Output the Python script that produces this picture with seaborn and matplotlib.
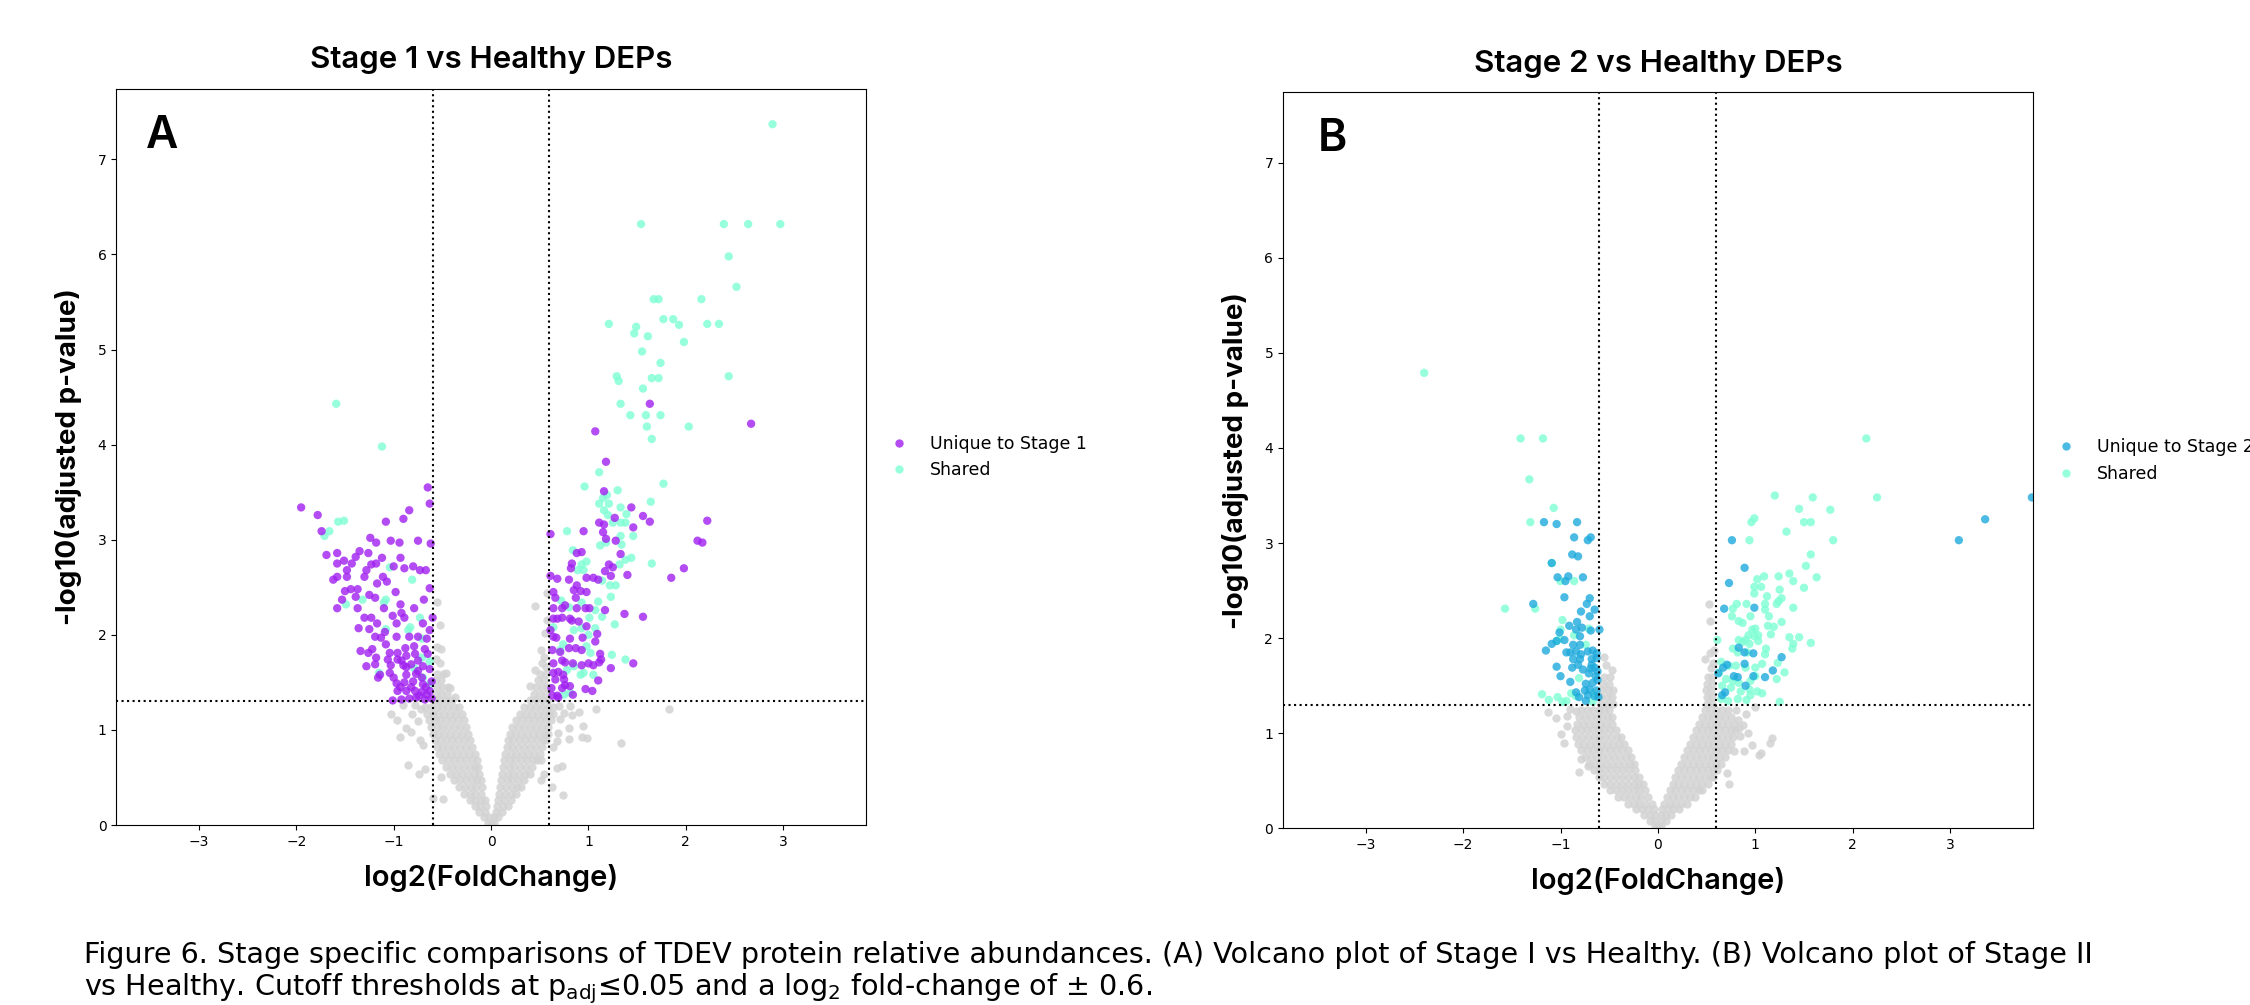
import matplotlib
matplotlib.use("Agg")
import matplotlib.pyplot as plt
import seaborn as sns
import pandas as pd

# fonts: DejaVu for ticks/legend/caption, Inter for titles and axis labels
plt.rcParams['mathtext.default'] = 'regular'
FONT = ['Inter', 'DejaVu Sans']

GRAY = '#d3d3d3'
SHARED = '#7fffd4'
UNIQUE_1 = '#a020f0'
UNIQUE_2 = '#1eaadc'

FC_CUT = 0.6
P_CUT = 1.301

titles = ['Stage 1 vs Healthy DEPs', 'Stage 2 vs Healthy DEPs']
letters = ['A', 'B']
letter_x = [0.04, 0.047]
unique_labels = ['Unique to Stage 1', 'Unique to Stage 2']

# ---- panel A : Stage 1 vs Healthy (log2FC, -log10 padj) ----
# dense non-significant "V", read row by row (y level -> x positions)
a_body_y = [0.02, 0.08, 0.14, 0.20, 0.26, 0.33, 0.40, 0.47, 0.54, 0.61, 0.68, 0.75, 0.82, 0.89,
            0.96, 1.03, 1.10, 1.17, 1.24, 1.31, 1.38, 1.45, 1.52, 1.59]
a_body_x = [
    [-0.03, 0.00, 0.03],
    [-0.07, -0.02, 0.03, 0.07],
    [-0.12, -0.06, 0.05, 0.11],
    [-0.17, -0.11, -0.05, 0.06, 0.12, 0.17],
    [-0.22, -0.16, -0.10, -0.06, 0.07, 0.13, 0.20],
    [-0.28, -0.22, -0.16, -0.10, 0.08, 0.14, 0.20, 0.26],
    [-0.33, -0.27, -0.21, -0.15, -0.09, 0.09, 0.15, 0.21, 0.27, 0.31],
    [-0.38, -0.32, -0.26, -0.20, -0.14, -0.10, 0.10, 0.16, 0.22, 0.28, 0.34],
    [-0.42, -0.36, -0.30, -0.24, -0.18, -0.12, 0.11, 0.17, 0.23, 0.29, 0.35, 0.40],
    [-0.46, -0.40, -0.34, -0.28, -0.22, -0.16, -0.13, 0.12, 0.18, 0.24, 0.30, 0.36, 0.42],
    [-0.50, -0.44, -0.38, -0.32, -0.26, -0.20, -0.14, 0.13, 0.19, 0.25, 0.31, 0.37, 0.43, 0.47],
    [-0.53, -0.47, -0.41, -0.35, -0.29, -0.23, -0.17, 0.14, 0.20, 0.26, 0.32, 0.38, 0.44, 0.50],
    [-0.56, -0.50, -0.44, -0.38, -0.32, -0.26, -0.20, 0.16, 0.22, 0.28, 0.34, 0.40, 0.46, 0.52],
    [-0.58, -0.52, -0.46, -0.40, -0.34, -0.28, -0.22, 0.17, 0.23, 0.29, 0.35, 0.41, 0.47, 0.53, 0.56],
    [-0.60, -0.54, -0.48, -0.42, -0.36, -0.30, -0.24, 0.19, 0.25, 0.31, 0.37, 0.43, 0.49, 0.55, 0.58],
    [-0.62, -0.56, -0.50, -0.44, -0.38, -0.32, -0.26, 0.22, 0.28, 0.34, 0.40, 0.46, 0.52, 0.58],
    [-0.64, -0.58, -0.52, -0.46, -0.40, -0.34, -0.28, 0.26, 0.32, 0.38, 0.44, 0.50, 0.56, 0.62],
    [-0.66, -0.60, -0.54, -0.48, -0.42, -0.36, -0.30, 0.30, 0.36, 0.42, 0.48, 0.54, 0.60, 0.64],
    [-0.68, -0.62, -0.56, -0.50, -0.44, -0.38, -0.33, 0.34, 0.40, 0.46, 0.52, 0.58, 0.64],
    [-0.58, -0.52, -0.46, -0.40, 0.40, 0.46, 0.52, 0.58],
    [-0.57, -0.51, -0.45, 0.44, 0.50, 0.56],
    [-0.56, -0.50, -0.44, 0.46, 0.52, 0.57],
    [-0.57, -0.51, 0.48, 0.54],
    [-0.55, -0.49, 0.50, 0.56],
]
a_gray_pts = [
    (-0.52, 1.70), (-0.57, 1.75), (-0.56, 2.35), (-0.52, 2.10), (-0.56, 1.87), (-0.51, 1.85),
    (-0.46, 1.60), (-0.42, 1.44), (-0.37, 1.35),
    (0.57, 2.44), (0.45, 2.30), (0.57, 2.16), (0.55, 2.02), (0.51, 1.84), (0.54, 1.77), (0.45, 1.63),
    (0.56, 1.66), (0.40, 1.46), (0.52, 1.70),
    (-1.03, 1.17), (-0.97, 1.10), (-0.87, 1.02), (-0.93, 0.93), (-0.82, 0.98), (-0.75, 1.09), (-0.81, 1.17),
    (-0.85, 0.63), (-0.74, 0.54), (-0.68, 0.59), (-0.70, 0.84), (-0.73, 0.89), (-0.60, 0.28), (-0.49, 0.27),
    (-0.51, 0.50), (-0.72, 1.22), (-0.78, 1.26), (-0.90, 1.26),
    (0.81, 1.25), (0.90, 1.19), (0.83, 1.16), (1.08, 1.22), (1.83, 1.22), (0.75, 1.18), (0.71, 1.12),
    (0.94, 1.04), (0.93, 0.93), (0.98, 0.92), (0.80, 1.02), (0.80, 0.90), (1.33, 0.86), (0.69, 0.97),
    (0.68, 0.88), (0.64, 0.82), (0.73, 0.62), (0.68, 0.60), (0.63, 0.40), (0.74, 0.32), (0.51, 0.68),
    (0.54, 0.54), (0.51, 0.47), (0.70, 1.25),
]

a_unique_pts = [
    (-1.95, 3.34), (-1.78, 3.26), (-1.74, 3.09), (-0.65, 3.55), (-0.63, 3.38), (-0.84, 3.31), (-0.90, 3.22),
    (-1.08, 3.19), (-1.24, 3.02), (-1.18, 2.97), (-1.03, 2.99), (-0.94, 2.97), (-0.75, 2.99), (-0.62, 2.96),
    (-1.69, 2.84), (-1.58, 2.86), (-1.35, 2.88), (-1.26, 2.86), (-1.39, 2.82), (-1.12, 2.81), (-0.93, 2.81),
    (-1.58, 2.75), (-1.51, 2.78), (-1.43, 2.75), (-1.28, 2.68), (-1.23, 2.74), (-1.18, 2.75), (-1.48, 2.68),
    (-1.00, 2.72), (-0.89, 2.70), (-0.80, 2.72), (-0.73, 2.68), (-0.67, 2.68), (-1.62, 2.58), (-1.58, 2.61),
    (-1.48, 2.61), (-1.30, 2.61), (-1.11, 2.61), (-1.07, 2.56), (-1.17, 2.54), (-0.63, 2.49), (-0.98, 2.45),
    (-1.50, 2.46), (-1.44, 2.48), (-1.37, 2.48), (-1.25, 2.42), (-1.19, 2.39), (-1.53, 2.37), (-1.39, 2.40),
    (-0.69, 2.37), (-0.93, 2.32), (-1.58, 2.28), (-1.37, 2.28), (-1.10, 2.28), (-0.79, 2.28), (-1.30, 2.18),
    (-1.23, 2.18), (-1.01, 2.20), (-0.92, 2.23), (-0.89, 2.18), (-0.60, 2.18), (-0.70, 2.12), (-1.17, 2.12),
    (-0.97, 2.12), (-1.36, 2.07), (-1.25, 2.06), (-1.09, 2.03), (-0.63, 2.05), (-1.19, 1.98), (-1.13, 1.97),
    (-0.97, 1.98), (-0.84, 1.98), (-0.75, 1.98), (-0.66, 1.96), (-1.08, 1.90), (-0.88, 1.86), (-0.79, 1.88),
    (-1.34, 1.83), (-1.26, 1.81), (-1.22, 1.85), (-1.04, 1.81), (-0.96, 1.81), (-0.68, 1.85), (-0.65, 1.80),
    (-1.18, 1.76), (-1.06, 1.74), (-0.96, 1.74), (-0.87, 1.78), (-0.75, 1.73), (-1.28, 1.67), (-1.19, 1.69),
    (-1.03, 1.68), (-0.90, 1.68), (-0.82, 1.69), (-0.70, 1.67), (-0.63, 1.64), (-1.14, 1.58), (-1.04, 1.60),
    (-0.87, 1.58), (-0.77, 1.59), (-1.16, 1.55), (-0.97, 1.49), (-0.89, 1.50), (-0.80, 1.51), (-0.70, 1.48),
    (-0.61, 1.51), (-0.96, 1.41), (-0.87, 1.41), (-0.78, 1.41), (-0.71, 1.40), (-0.63, 1.41), (-1.01, 1.31),
    (-0.92, 1.32), (-0.84, 1.33), (-0.77, 1.34), (-0.68, 1.32), (-0.61, 1.33), (-0.71, 1.55), (-0.87, 1.66),
    (-0.92, 1.73), (-0.78, 1.80), (-0.74, 1.36), (-0.66, 1.37), (-0.82, 1.45), (-0.93, 1.45), (-0.67, 1.45),
    (-0.75, 1.62), (-1.00, 1.55),
    (1.63, 4.43), (2.67, 4.22), (1.07, 4.14), (1.18, 3.82), (1.16, 3.51), (1.44, 3.34), (1.27, 3.23),
    (1.11, 3.18), (1.16, 3.16), (1.15, 3.08), (1.18, 3.01), (1.56, 3.25), (1.63, 3.19), (1.46, 3.13),
    (2.22, 3.20), (2.12, 2.99), (2.17, 2.97), (0.61, 3.06), (0.95, 3.09), (1.28, 2.99), (1.33, 2.85),
    (0.88, 2.86), (0.93, 2.87), (0.83, 2.75), (0.82, 2.70), (1.21, 2.74), (1.25, 2.71), (1.23, 2.62),
    (1.17, 2.67), (1.40, 2.63), (1.98, 2.70), (1.85, 2.60), (0.61, 2.62), (0.68, 2.59), (0.80, 2.58),
    (0.98, 2.60), (1.05, 2.60), (1.10, 2.58), (0.88, 2.52), (0.92, 2.46), (0.98, 2.45), (0.85, 2.47),
    (0.87, 2.39), (0.64, 2.45), (0.66, 2.39), (0.64, 2.28), (0.73, 2.28), (0.76, 2.31), (0.88, 2.28),
    (0.97, 2.28), (1.01, 2.28), (1.17, 2.26), (0.64, 2.17), (0.68, 2.17), (0.73, 2.18), (0.81, 2.17),
    (0.83, 2.15), (0.90, 2.14), (0.98, 2.09), (1.37, 2.22), (1.56, 2.19), (0.61, 2.05), (0.64, 1.98),
    (0.67, 1.97), (0.81, 1.96), (0.94, 1.97), (1.09, 2.01), (1.07, 1.93), (0.63, 1.84), (0.71, 1.82),
    (0.80, 1.86), (0.87, 1.86), (0.93, 1.84), (1.12, 1.80), (1.13, 1.74), (1.11, 1.71), (0.64, 1.70),
    (0.73, 1.73), (0.76, 1.71), (0.84, 1.70), (0.93, 1.68), (1.00, 1.70), (1.05, 1.68), (1.23, 1.65),
    (1.46, 1.70), (0.64, 1.60), (0.69, 1.61), (0.74, 1.58), (0.66, 1.53), (0.75, 1.53), (0.76, 1.47),
    (1.10, 1.52), (0.73, 1.44), (0.81, 1.46), (0.84, 1.37), (0.97, 1.43), (1.04, 1.41), (0.63, 1.36),
    (0.68, 1.36), (0.69, 1.34), (0.62, 1.44),
]

a_shared_pts = [
    (-1.59, 4.43), (-1.12, 3.98), (-1.57, 3.19), (-1.51, 3.20), (-1.66, 3.09), (-1.71, 3.04), (-1.04, 2.71),
    (-0.81, 2.58), (-1.08, 2.37), (-1.10, 2.34), (-1.32, 2.37), (-1.49, 2.32), (-0.73, 2.18), (-0.83, 2.08),
    (-0.85, 2.05), (-1.08, 2.06), (-0.71, 1.96), (-0.71, 1.76), (-0.63, 1.72), (-0.79, 1.65), (-1.15, 1.60),
    (-0.70, 1.55), (-0.63, 1.48),
    (2.89, 7.37), (1.54, 6.32), (2.39, 6.32), (2.64, 6.32), (2.97, 6.32), (2.44, 5.98), (2.52, 5.66),
    (1.67, 5.53), (1.72, 5.53), (2.16, 5.53), (1.21, 5.27), (1.49, 5.24), (1.47, 5.17), (1.61, 5.14),
    (1.77, 5.32), (1.87, 5.32), (1.93, 5.26), (2.22, 5.27), (2.34, 5.27), (1.98, 5.08), (1.55, 4.98),
    (1.74, 4.86), (1.29, 4.72), (1.31, 4.67), (1.65, 4.70), (1.72, 4.70), (2.44, 4.72), (1.56, 4.59),
    (1.33, 4.43), (1.43, 4.31), (1.59, 4.31), (1.74, 4.31), (1.60, 4.19), (2.03, 4.19), (1.65, 4.06),
    (1.11, 3.71), (1.77, 3.59), (0.96, 3.56), (1.30, 3.52), (1.19, 3.47), (1.15, 3.44), (1.21, 3.38),
    (1.11, 3.38), (1.33, 3.34), (1.16, 3.31), (1.64, 3.40), (1.39, 3.27), (1.20, 3.26), (1.25, 3.18),
    (1.33, 3.18), (1.38, 3.18), (0.78, 3.09), (1.12, 2.94), (1.18, 2.97), (1.33, 3.04), (1.46, 3.04),
    (1.34, 2.95), (0.84, 2.89), (1.44, 2.81), (1.38, 2.79), (1.32, 2.74), (1.65, 2.75), (0.98, 2.77),
    (0.93, 2.74), (0.89, 2.68), (0.95, 2.68), (1.14, 2.57), (1.22, 2.52), (1.28, 2.52), (1.23, 2.40),
    (0.72, 2.36), (0.93, 2.34), (1.10, 2.35), (1.07, 2.26), (0.80, 2.29), (1.01, 2.18), (1.14, 2.19),
    (1.27, 2.11), (0.64, 2.08), (0.85, 2.05), (0.93, 2.07), (1.07, 2.07), (1.00, 2.00), (0.74, 1.90),
    (0.98, 1.88), (1.02, 1.81), (0.71, 1.84), (1.24, 1.79), (1.38, 1.74), (0.85, 1.67), (0.92, 1.58),
    (0.95, 1.60), (1.05, 1.58), (0.78, 1.63), (0.81, 1.39), (0.75, 1.37),
]

# ---- panel B : Stage 2 vs Healthy ----
b_body_y = [0.02, 0.08, 0.14, 0.20, 0.26, 0.33, 0.40, 0.47, 0.54, 0.61, 0.68, 0.75, 0.82, 0.89,
            0.96, 1.03, 1.10, 1.17, 1.24, 1.31, 1.38, 1.45, 1.52, 1.59]
b_body_x = [
    [-0.03, 0.00, 0.03],
    [-0.08, -0.03, 0.03, 0.08],
    [-0.14, -0.08, -0.03, 0.03, 0.08, 0.13],
    [-0.22, -0.16, -0.10, -0.04, 0.04, 0.10, 0.16, 0.22],
    [-0.31, -0.25, -0.19, -0.13, -0.06, 0.06, 0.12, 0.18, 0.24, 0.30],
    [-0.41, -0.35, -0.29, -0.23, -0.17, -0.10, 0.09, 0.15, 0.21, 0.27, 0.33, 0.38],
    [-0.49, -0.43, -0.37, -0.31, -0.25, -0.19, -0.13, 0.12, 0.18, 0.24, 0.30, 0.36, 0.42, 0.45],
    [-0.55, -0.49, -0.43, -0.37, -0.31, -0.25, -0.19, -0.15, 0.15, 0.21, 0.27, 0.33, 0.39, 0.45, 0.51],
    [-0.61, -0.55, -0.49, -0.43, -0.37, -0.31, -0.25, -0.19, 0.18, 0.24, 0.30, 0.36, 0.42, 0.48, 0.54, 0.57],
    [-0.66, -0.60, -0.54, -0.48, -0.42, -0.36, -0.30, -0.24, 0.21, 0.27, 0.33, 0.39, 0.45, 0.51, 0.57, 0.61],
    [-0.71, -0.65, -0.59, -0.53, -0.47, -0.41, -0.35, -0.29, -0.25, 0.24, 0.30, 0.36, 0.42, 0.48, 0.54,
     0.60, 0.65],
    [-0.75, -0.69, -0.63, -0.57, -0.51, -0.45, -0.39, -0.33, -0.28, 0.27, 0.33, 0.39, 0.45, 0.51, 0.57,
     0.63, 0.69],
    [-0.79, -0.73, -0.67, -0.61, -0.55, -0.49, -0.43, -0.37, -0.31, 0.30, 0.36, 0.42, 0.48, 0.54, 0.60,
     0.66, 0.72],
    [-0.82, -0.76, -0.70, -0.64, -0.58, -0.52, -0.46, -0.40, -0.35, 0.33, 0.39, 0.45, 0.51, 0.57, 0.63,
     0.69, 0.75],
    [-0.84, -0.78, -0.72, -0.66, -0.60, -0.54, -0.48, -0.42, -0.38, 0.36, 0.42, 0.48, 0.54, 0.60, 0.66,
     0.72, 0.77],
    [-0.85, -0.79, -0.73, -0.67, -0.61, -0.55, -0.49, -0.43, 0.39, 0.45, 0.51, 0.57, 0.63, 0.69, 0.75, 0.79],
    [-0.83, -0.77, -0.71, -0.65, -0.59, -0.53, -0.47, 0.42, 0.48, 0.54, 0.60, 0.66, 0.72, 0.78],
    [-0.81, -0.75, -0.69, -0.63, -0.57, -0.51, -0.47, 0.45, 0.51, 0.57, 0.63, 0.69, 0.75],
    [-0.79, -0.73, -0.67, -0.61, -0.55, -0.50, 0.48, 0.54, 0.60, 0.66, 0.72],
    [-0.58, -0.52, -0.46, 0.50, 0.56],
    [-0.58, -0.52, -0.47, 0.50, 0.56],
    [-0.57, -0.51, -0.46, 0.49, 0.55],
    [-0.56, -0.50, 0.50, 0.56],
    [-0.55, -0.49, 0.51, 0.56],
]
b_gray_pts = [
    (-0.53, 1.72), (-0.47, 1.67), (-0.55, 1.80),
    (0.52, 2.36), (0.53, 2.18), (0.48, 1.78), (0.53, 1.84), (0.58, 1.88), (0.54, 1.69), (0.57, 1.74),
    (-1.13, 1.22), (-1.05, 1.16), (-0.93, 1.18), (-0.84, 1.23), (-0.99, 0.99), (-0.93, 1.08),
    (-0.96, 0.90), (-0.81, 0.59), (-0.79, 0.73), (-0.72, 0.66), (-0.90, 1.26),
    (1.00, 1.28), (0.90, 1.20), (0.82, 1.14), (0.87, 1.09), (0.92, 1.00), (1.17, 0.95), (1.15, 0.90),
    (1.04, 0.77), (1.06, 0.79), (0.88, 0.81), (0.78, 0.81), (0.97, 0.88), (0.71, 0.58), (0.73, 0.47),
    (0.83, 1.05), (0.84, 0.97), (0.80, 1.24),
]

b_unique_pts = [
    (-1.17, 3.22), (-1.04, 3.20), (-0.83, 3.22), (-0.86, 3.06), (-0.72, 3.03), (-0.69, 3.06), (-0.88, 2.88),
    (-0.82, 2.86), (-1.09, 2.79), (-1.03, 2.64), (-0.92, 2.65), (-0.77, 2.64), (-0.95, 2.60), (-0.96, 2.43),
    (-1.28, 2.36), (-0.70, 2.42), (-0.73, 2.36), (-0.65, 2.30), (-0.79, 2.28), (-0.70, 2.23), (-0.91, 2.13),
    (-0.83, 2.17), (-0.78, 2.11), (-0.69, 2.08), (-0.60, 2.09), (-1.01, 2.06), (-0.84, 2.09), (-0.80, 2.02),
    (-1.09, 1.94), (-1.04, 1.97), (-0.96, 1.98), (-0.87, 1.93), (-0.80, 1.93), (-1.15, 1.87), (-0.94, 1.85),
    (-0.90, 1.85), (-0.84, 1.86), (-0.79, 1.83), (-0.72, 1.86), (-0.67, 1.87), (-0.63, 1.84), (-0.87, 1.78),
    (-0.80, 1.78), (-0.68, 1.78), (-0.63, 1.79), (-0.65, 1.69), (-0.68, 1.72), (-1.04, 1.70), (-0.88, 1.69),
    (-0.82, 1.72), (-0.77, 1.67), (-0.69, 1.68), (-0.62, 1.65), (-1.00, 1.60), (-0.71, 1.63), (-0.64, 1.60),
    (-0.90, 1.54), (-0.74, 1.52), (-0.67, 1.53), (-0.62, 1.56), (-0.84, 1.43), (-0.75, 1.45), (-0.70, 1.46),
    (-0.63, 1.45), (-0.81, 1.38), (-0.72, 1.40), (-0.65, 1.39), (-0.61, 1.38), (-0.74, 1.34),
    (3.84, 3.48), (3.36, 3.25), (3.09, 3.03), (0.76, 3.03), (0.89, 2.74), (0.73, 2.58), (0.68, 2.31),
    (0.99, 2.32), (0.83, 1.90), (0.89, 1.85), (0.98, 1.84), (1.27, 1.80), (0.67, 1.69), (0.71, 1.72),
    (0.62, 1.63), (0.89, 1.73), (0.98, 1.60), (0.82, 1.59), (0.78, 1.60), (1.18, 1.66), (1.10, 1.59),
    (0.90, 1.50), (0.69, 1.43), (0.66, 1.40),
]

b_shared_pts = [
    (-2.40, 4.79), (-1.41, 4.10), (-1.18, 4.10), (-1.32, 3.67), (-1.07, 3.37), (-1.31, 3.22), (-1.09, 2.79),
    (-1.00, 2.60), (-0.86, 2.60), (-1.57, 2.31), (-1.26, 2.31), (-0.98, 2.19), (-1.00, 2.09), (-0.86, 2.03),
    (-1.04, 1.97), (-1.01, 1.99), (-0.74, 1.93), (-0.71, 2.10), (-0.81, 1.58), (-1.19, 1.41), (-1.12, 1.35),
    (-1.03, 1.38), (-0.94, 1.34), (-0.98, 1.33), (-0.89, 1.42), (-0.84, 1.39), (-0.66, 1.42), (-0.67, 1.33),
    (2.14, 4.10), (1.20, 3.50), (1.59, 3.48), (2.25, 3.48), (1.45, 3.36), (1.77, 3.35), (0.99, 3.26),
    (0.96, 3.22), (1.50, 3.22), (1.57, 3.22), (1.32, 3.12), (0.94, 3.03), (1.80, 3.03), (1.57, 2.88),
    (1.52, 2.76), (1.02, 2.62), (1.09, 2.65), (1.24, 2.65), (1.35, 2.68), (1.39, 2.60), (1.63, 2.64),
    (0.99, 2.54), (1.06, 2.54), (0.99, 2.47), (1.50, 2.53), (1.12, 2.44), (1.25, 2.51), (1.27, 2.42),
    (1.22, 2.36), (1.24, 2.39), (0.81, 2.36), (0.91, 2.36), (0.77, 2.31), (0.76, 2.23), (1.10, 2.36),
    (1.10, 2.30), (1.14, 2.23), (1.39, 2.32), (0.95, 2.23), (0.83, 2.18), (0.87, 2.16), (1.27, 2.17),
    (1.13, 2.13), (1.19, 2.12), (1.16, 2.04), (0.97, 2.09), (1.00, 2.10), (0.93, 2.03), (0.99, 2.02),
    (1.03, 2.03), (0.90, 1.98), (1.35, 2.01), (1.45, 2.01), (1.39, 1.94), (1.38, 1.89), (1.57, 1.95),
    (0.83, 1.98), (0.87, 1.96), (0.94, 1.94), (0.61, 1.98), (0.77, 1.89), (0.82, 1.85), (0.92, 1.85),
    (1.03, 1.97), (1.11, 1.89), (1.10, 1.83), (0.65, 1.75), (0.73, 1.71), (0.80, 1.71), (0.90, 1.69),
    (1.00, 1.69), (1.07, 1.73), (1.23, 1.74), (1.30, 1.64), (0.63, 1.64), (0.70, 1.57), (0.77, 1.55),
    (0.83, 1.53), (0.95, 1.55), (1.00, 1.60), (1.22, 1.57), (0.66, 1.50), (0.75, 1.48), (0.85, 1.44),
    (0.94, 1.46), (1.02, 1.44), (1.07, 1.42), (0.65, 1.36), (0.72, 1.34), (0.82, 1.36), (0.91, 1.35),
    (0.95, 1.40), (1.25, 1.33),
]

caption_1 = ("Figure 6. Stage specific comparisons of TDEV protein relative abundances. "
             "(A) Volcano plot of Stage I vs Healthy. (B) Volcano plot of Stage II")
caption_2 = ("vs Healthy. Cutoff thresholds at p$_{adj}$\u22640.05 and a log$_{2}$ "
             "fold-change of \u00b1 0.6.")


def to_df(pts):
    return pd.DataFrame(pts, columns=['log2FC', 'nlog10p'])


def body_df(ys, xs):
    pts = [(x, y) for y, row in zip(ys, xs) for x in row]
    return to_df(pts)


fig = plt.figure(figsize=(22.5, 10.05), dpi=100)
ax_a = fig.add_axes([0.0516, 0.1791, 0.3333, 0.7323])
ax_b = fig.add_axes([0.5702, 0.1758, 0.3333, 0.7323])

panels = [
    (ax_a, a_body_y, a_body_x, a_gray_pts, a_unique_pts, a_shared_pts, UNIQUE_1),
    (ax_b, b_body_y, b_body_x, b_gray_pts, b_unique_pts, b_shared_pts, UNIQUE_2),
]

for i, (ax, body_y, body_x, gray, uniq, shared, ucol) in enumerate(panels):
    dg = pd.concat([body_df(body_y, body_x), to_df(gray)], ignore_index=True)
    sns.scatterplot(data=dg, x='log2FC', y='nlog10p', color=GRAY,
                    s=36, alpha=0.85, linewidth=0, legend=False, ax=ax)

    du = to_df(uniq)
    du['group'] = unique_labels[i]
    ds = to_df(shared)
    ds['group'] = 'Shared'
    df = pd.concat([ds, du], ignore_index=True)
    sns.scatterplot(data=df, x='log2FC', y='nlog10p', hue='group',
                    hue_order=[unique_labels[i], 'Shared'],
                    palette={unique_labels[i]: ucol, 'Shared': SHARED},
                    s=36, alpha=0.8, linewidth=0, ax=ax)

    ax.axvline(-FC_CUT, color='black', linestyle=':', linewidth=1.5, zorder=5)
    ax.axvline(FC_CUT, color='black', linestyle=':', linewidth=1.5, zorder=5)
    ax.axhline(P_CUT, color='black', linestyle=':', linewidth=1.5, zorder=5)

    ax.set_xlim(-3.85, 3.85)
    ax.set_ylim(0, 7.74)
    ax.tick_params(labelsize=10)

    ax.set_title(titles[i], fontsize=22.5, family=FONT, fontweight='semibold', pad=15)
    ax.set_xlabel('log2(FoldChange)', fontsize=21, family=FONT, fontweight='semibold', labelpad=11)
    ax.set_ylabel('-log10(adjusted p-value)', fontsize=20, family=FONT, fontweight='bold', labelpad=11)
    ax.text(letter_x[i], 0.965, letters[i], transform=ax.transAxes, fontsize=32, family=FONT,
            fontweight='semibold', va='top', ha='left')

    old = ax.get_legend()
    handles = old.legend_handles
    labels = [t.get_text() for t in old.get_texts()]
    old.remove()
    ax.legend(handles, labels, loc='center left', bbox_to_anchor=(1, 0.5),
              frameon=False, fontsize=12.5)

fig.text(0.0373, 0.0418, caption_1, fontsize=20.6, family='DejaVu Sans', va='baseline')
fig.text(0.0373, 0.010, caption_2, fontsize=20.6, family='DejaVu Sans', va='baseline')

fig.savefig('out.png', dpi=100)
